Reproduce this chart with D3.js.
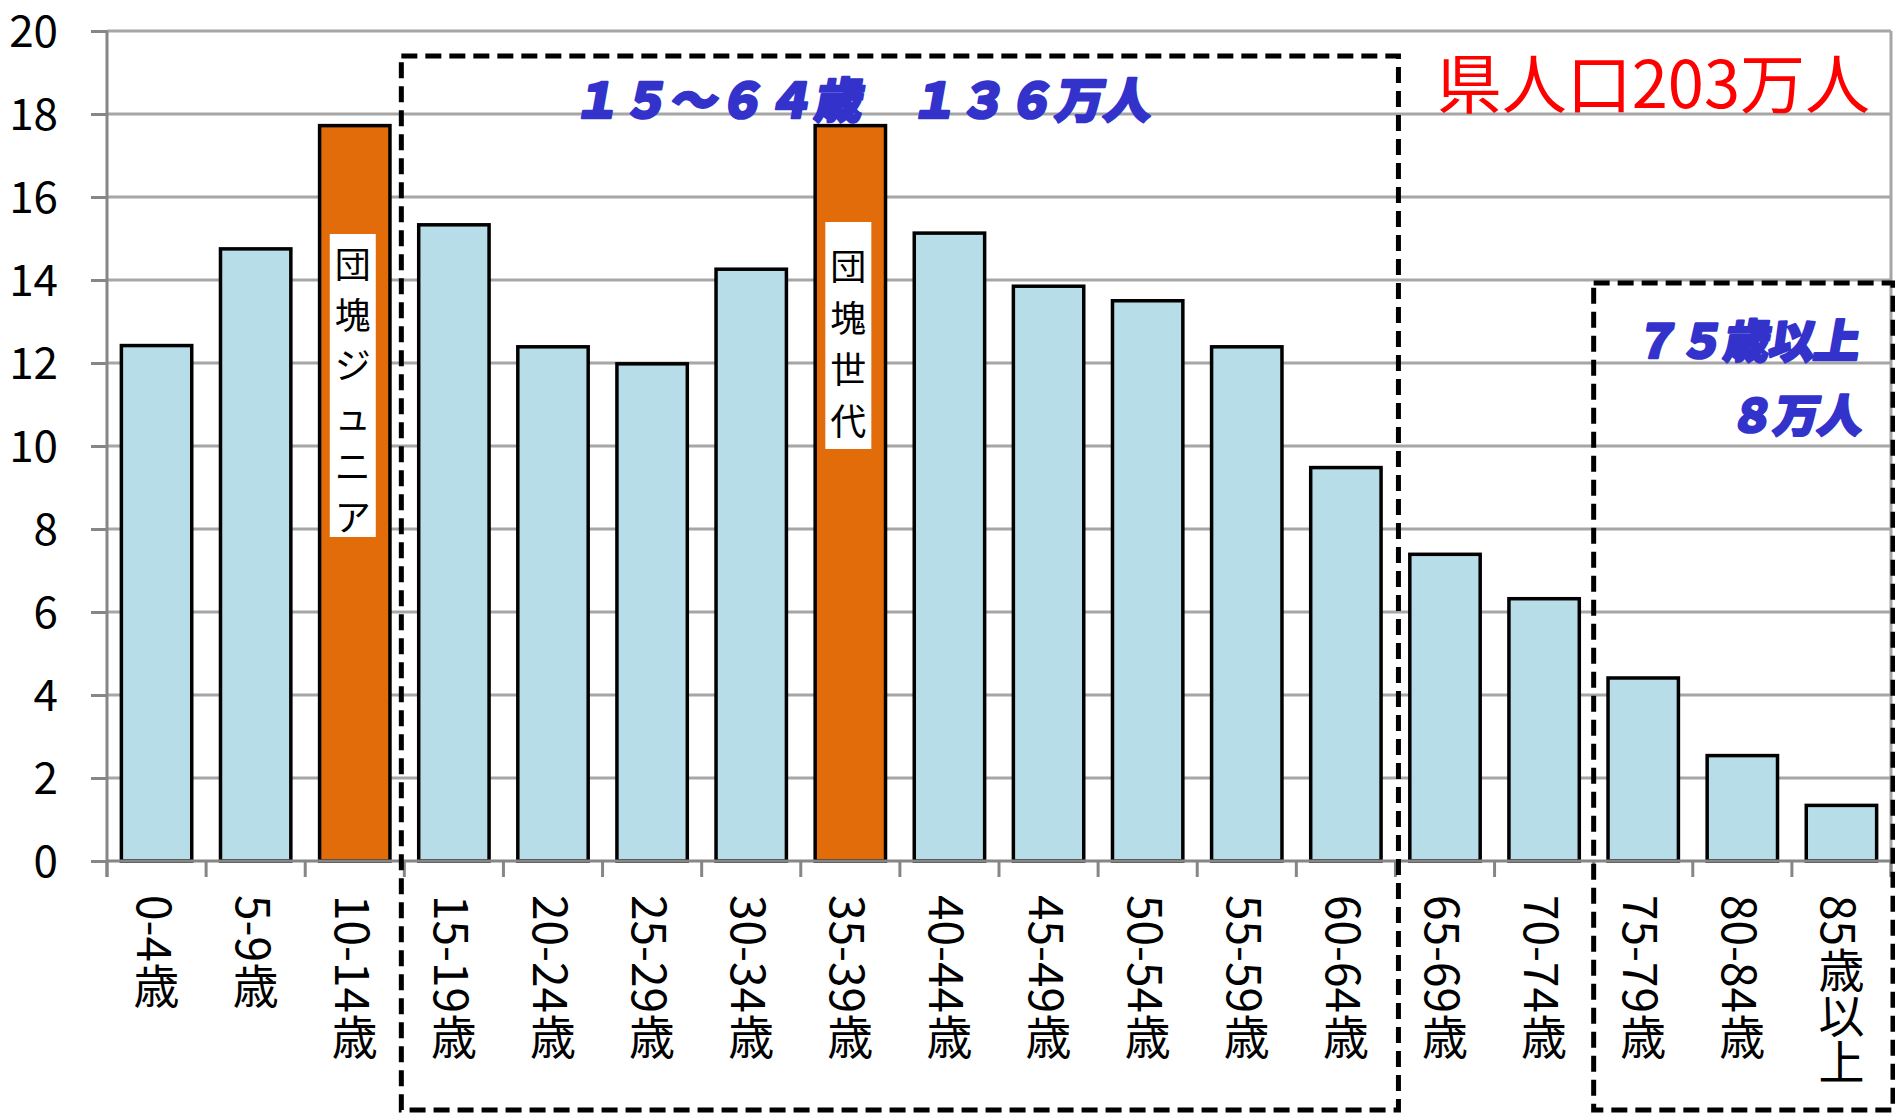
<!DOCTYPE html>
<html><head><meta charset="utf-8">
<script src="https://cdn.jsdelivr.net/npm/d3@7"></script>
<style>
html,body{margin:0;padding:0;background:#fff;}
svg{display:block;}
text{font-family:"Noto Sans CJK JP","Noto Sans",sans-serif;}
.vlab{writing-mode:vertical-rl;text-orientation:mixed;}
</style></head>
<body>
<svg id="chart" width="1895" height="1116"></svg>
<script>
const categories = ["0-4歳","5-9歳","10-14歳","15-19歳","20-24歳","25-29歳","30-34歳","35-39歳","40-44歳","45-49歳","50-54歳","55-59歳","60-64歳","65-69歳","70-74歳","75-79歳","80-84歳","85歳以上"];
const population = [12.42,14.75,17.72,15.33,12.39,11.98,14.26,17.72,15.13,13.85,13.50,12.39,9.48,7.39,6.32,4.41,2.54,1.34];
const highlighted = ["10-14歳","35-39歳"];
const yTicks = [0,2,4,6,8,10,12,14,16,18,20];
const barLabels = [
  {cat:"10-14歳", text:"団塊ジュニア", y0:234, y1:537, first:262, last:515},
  {cat:"35-39歳", text:"団塊世代", y0:222, y1:449, first:264, last:419}
];
const titleText = "県人口203万人";
const groupWorking = {from:"15-19歳", to:"60-64歳", text:"１５～６４歳　１３６万人"};
const groupElderly = {from:"75-79歳", to:"85歳以上", line1:"７５歳以上", line2:"８万人"};

(function(){
const pLeft = 107, pRight = 1891, pTop = 31, pBottom = 861;
const svg = d3.select("#chart");

const x = d3.scaleBand().domain(categories).range([pLeft, pRight]).paddingInner(0.29).paddingOuter(0.145);
const y = d3.scaleLinear().domain([0, 20]).range([pBottom, pTop]);
const step = x.step();
const boundary = c => x(c) - step * x.paddingInner() / 2;

const gridColor = "#a6a6a6", axisColor = "#868686";

// gridlines
svg.append("g").selectAll("line").data(yTicks.filter(d => d > 0)).join("line")
  .attr("x1", pLeft).attr("x2", pRight).attr("y1", d => y(d)).attr("y2", d => y(d))
  .attr("stroke", gridColor).attr("stroke-width", 3);
// right border
svg.append("line").attr("x1", pRight).attr("x2", pRight).attr("y1", pTop).attr("y2", pBottom + 16)
  .attr("stroke", gridColor).attr("stroke-width", 3);

// y axis
const yAxis = d3.axisLeft(y).tickValues(yTicks).tickSize(16).tickPadding(33).tickFormat(d3.format("d"));
const ya = svg.append("g").attr("transform", `translate(${pLeft},0)`).call(yAxis);
ya.select(".domain").attr("stroke", axisColor).attr("stroke-width", 3).attr("d", `M0,${pTop}V${pBottom + 16}`);
ya.selectAll(".tick line").attr("stroke", axisColor).attr("stroke-width", 3);
ya.selectAll(".tick text").attr("font-size", 44).attr("fill", "#000")
  .attr("font-family", 'Lato,"Noto Sans",sans-serif').attr("dy", "0.36em");

// bars
svg.append("g").selectAll("rect").data(categories).join("rect")
  .attr("x", d => x(d)).attr("width", x.bandwidth())
  .attr("y", (d, i) => y(population[i])).attr("height", (d, i) => y(0) - y(population[i]))
  .attr("fill", d => highlighted.includes(d) ? "#e36c0a" : "#b7dde8")
  .attr("stroke", "#000").attr("stroke-width", 3.5);

// x axis line + ticks at band boundaries
const bounds = categories.map(boundary).concat([pRight]);
svg.append("line").attr("x1", pLeft).attr("x2", pRight).attr("y1", pBottom).attr("y2", pBottom)
  .attr("stroke", axisColor).attr("stroke-width", 3);
svg.append("g").selectAll("line").data(bounds).join("line")
  .attr("x1", d => d).attr("x2", d => d).attr("y1", pBottom).attr("y2", pBottom + 16)
  .attr("stroke", axisColor).attr("stroke-width", 3);

// x labels (vertical writing)
svg.append("g").selectAll("text").data(categories).join("text")
  .attr("class", "vlab")
  .attr("x", d => x(d) + x.bandwidth() / 2).attr("y", 895)
  .attr("text-anchor", "start")
  .attr("font-size", 46).attr("fill", "#000").text(d => d);

// bar labels (vertical, white box)
barLabels.forEach(b => {
  const cx = x(b.cat) + x.bandwidth() / 2 - 2;
  svg.append("rect").attr("x", cx - 23).attr("width", 46).attr("y", b.y0).attr("height", b.y1 - b.y0).attr("fill", "#fff");
  const chars = Array.from(b.text);
  const st = (b.last - b.first) / (chars.length - 1);
  svg.append("g").selectAll("text").data(chars).join("text")
    .attr("x", cx).attr("y", (d, i) => b.first + i * st)
    .attr("text-anchor", "middle").attr("dominant-baseline", "central")
    .attr("font-size", 36).attr("fill", "#000").text(d => d);
});

// dashed group boxes
const dash = "16,8";
const b1l = boundary(groupWorking.from) - 3, b1r = boundary(groupWorking.to) + step + 3;
svg.append("rect").attr("x", b1l).attr("y", 56).attr("width", b1r - b1l).attr("height", 1110 - 56)
  .attr("fill", "none").attr("stroke", "#000").attr("stroke-width", 5).attr("stroke-dasharray", dash);
const b2l = boundary(groupElderly.from);
svg.append("rect").attr("x", b2l).attr("y", 283).attr("width", pRight + 2 - b2l).attr("height", 1110 - 283)
  .attr("fill", "none").attr("stroke", "#000").attr("stroke-width", 5).attr("stroke-dasharray", dash);

// title (red)
svg.append("text").attr("x", 1870).attr("y", 108).attr("text-anchor", "end")
  .attr("font-size", 65).attr("fill", "#ff0000").text(titleText);

// blue annotations
const blue = "#3333cc";
function blueText(tx, ty, str, size, len) {
  const t = svg.append("text").attr("transform", `translate(${tx},${ty}) skewX(-10)`)
    .attr("font-size", size).attr("font-weight", 900).attr("fill", blue)
    .attr("stroke", blue).attr("stroke-width", 2.5).attr("stroke-linejoin", "round").text(str);
  if (len) t.attr("textLength", len).attr("lengthAdjust", "spacing");
  return t;
}
blueText(572, 118, groupWorking.text, 48, 578);
blueText(1632, 358, groupElderly.line1, 46, 226);
blueText(1728, 432, groupElderly.line2, 45, 133);
})();
</script>
</body></html>
